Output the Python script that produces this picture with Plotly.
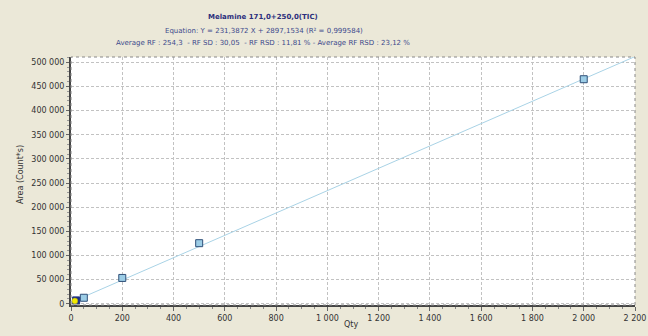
import plotly.graph_objects as go

# Data
qty_cal = [50, 200, 500, 2000]
area_cal = [12500, 53500, 125500, 465000]
qty_sel = [20]
area_sel = [7000]
qty_cur = [15]
area_cur = [6000]
slope = 231.3872
intercept = 2897.1534
line_x = [0, 2200]
line_y = [slope * x + intercept for x in line_x]

title_text = "Melamine 171,0+250,0(TIC)"
eq_text = "Equation: Y = 231,3872 X + 2897,1534 (R² = 0,999584)"
rf_text = "Average RF : 254,3  - RF SD : 30,05  - RF RSD : 11,81 % - Average RF RSD : 23,12 %"

FONT = "DejaVu Sans"
W, H = 648, 336
L, R, T, B = 71, 13, 57, 31
PH = H - T - B
PW = W - L - R

def py(ypix):
    return (H - B - ypix) / PH

def px(xpix):
    return (xpix - L) / PW

fig = go.Figure()
fig.add_trace(go.Scatter(x=line_x, y=line_y, mode="lines",
                         line=dict(color="#a9d3e6", width=1), hoverinfo="skip"))
fig.add_trace(go.Scatter(x=qty_cal, y=area_cal, mode="markers",
                         marker=dict(symbol="square", size=7, color="#9ccde6",
                                     line=dict(color="#2f4f78", width=1))))
fig.add_trace(go.Scatter(x=qty_sel, y=area_sel, mode="markers",
                         marker=dict(symbol="square", size=7, color="#1c2f85",
                                     line=dict(color="#1c2f85", width=1))))
fig.add_trace(go.Scatter(x=qty_cur, y=area_cur, mode="markers",
                         marker=dict(symbol="circle", size=6, color="#f2ea00",
                                     line=dict(color="#8a8a30", width=0.5))))

fig.update_layout(
    width=W, height=H,
    margin=dict(l=L, r=R, t=T, b=B, autoexpand=False),
    paper_bgcolor="#ebe8d8",
    plot_bgcolor="#ffffff",
    showlegend=False,
    separators=", ",
    font=dict(family=FONT, size=8, color="#333333"),
    xaxis=dict(range=[0, 2200], dtick=200, tick0=0, tickformat=",", automargin=False,
               showgrid=True, gridcolor="#c2c2c2", griddash="3px,2px", gridwidth=1,
               zeroline=False, showline=True, linecolor="#444444", linewidth=2,
               mirror=False, ticks="outside", ticklen=4, tickcolor="#666666",
               minor=dict(dtick=50, ticks="outside", ticklen=2, tickcolor="#888888", showgrid=False),
               tickfont=dict(family=FONT, size=8, color="#333333")),
    yaxis=dict(range=[-2500, 511000], dtick=50000, tick0=0, tickformat=",", automargin=False,
               showgrid=True, gridcolor="#c2c2c2", griddash="3px,2px", gridwidth=1,
               zeroline=False, showline=True, linecolor="#444444", linewidth=2,
               ticks="outside", ticklen=3, tickcolor="#666666",
               minor=dict(dtick=10000, ticks="outside", ticklen=2, tickcolor="#999999", showgrid=False),
               tickfont=dict(family=FONT, size=8, color="#333333")),
    shapes=[dict(type="rect", xref="paper", yref="paper", x0=0, x1=1, y0=0, y1=1,
                 line=dict(color="#888888", width=1, dash="dot"), layer="above")],
    annotations=[
        dict(text="<b>" + title_text + "</b>", xref="paper", yref="paper",
             x=px(263), y=py(17), xanchor="center", yanchor="middle", showarrow=False,
             font=dict(family=FONT, size=7, color="#2b2f7c")),
        dict(text=eq_text, xref="paper", yref="paper",
             x=px(264), y=py(31), xanchor="center", yanchor="middle", showarrow=False,
             font=dict(family=FONT, size=7, color="#3d4a8c")),
        dict(text=rf_text, xref="paper", yref="paper",
             x=px(263), y=py(43), xanchor="center", yanchor="middle", showarrow=False,
             font=dict(family=FONT, size=7, color="#3d4a8c")),
        dict(text="Area (Count*s)", xref="paper", yref="paper",
             x=px(20), y=py(175), xanchor="center", yanchor="middle", textangle=-90,
             showarrow=False, font=dict(family=FONT, size=8, color="#333333")),
        dict(text="Qty", xref="paper", yref="paper",
             x=px(351), y=py(324), xanchor="center", yanchor="middle",
             showarrow=False, font=dict(family=FONT, size=8, color="#333333")),
    ],
)

fig.write_html("out.html")
